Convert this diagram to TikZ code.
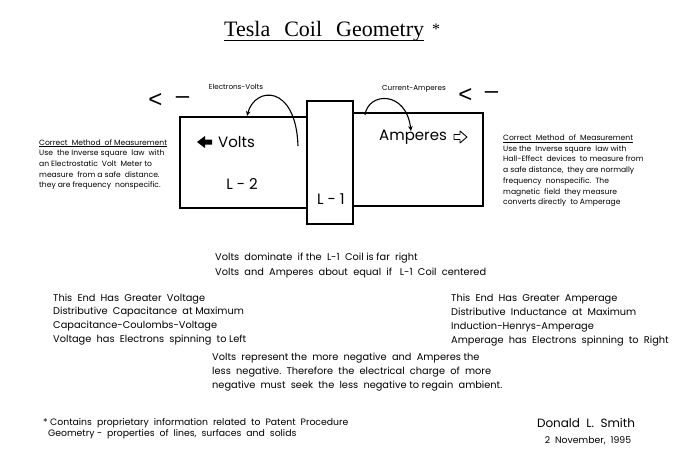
\documentclass[tikz,border=0pt]{standalone}
\usepackage{fontspec}
\setmainfont{Poppins}
\newfontfamily\titlefont{Liberation Serif}
\newfontfamily\markfont{Liberation Sans}
\usetikzlibrary{positioning, calc, arrows.meta}

\begin{document}
\begin{tikzpicture}[x=1pt, y=-1pt,
    coil/.style={draw, line width=1.1pt, fill=white, inner sep=0pt},
    big/.style={font=\fontsize{15}{18}\selectfont, inner sep=0pt},
    dirmark/.style={font=\markfont\fontsize{24}{26}\selectfont, inner sep=0pt},
    note/.style={anchor=north west, align=left, inner sep=0pt, font=\fontsize{7.6}{10.7}\selectfont},
    body/.style={anchor=north west, align=left, inner sep=0pt, font=\fontsize{9.8}{13.8}\selectfont},
    spin/.style={line width=1.1pt, -{Stealth[length=5pt,width=4.5pt]}}]
  \useasboundingbox (0,0) rectangle (690,459);

  % Title
  \node[anchor=base west, inner sep=0pt, font=\titlefont\fontsize{22}{24}\selectfont] (title) at (224,36)
    {Tesla\hspace{14pt}Coil\hspace{14pt}Geometry};
  \node[anchor=base west, inner sep=0pt, font=\titlefont\fontsize{16}{18}\selectfont] (star) at (432,34) {*};
  \draw[line width=0.8pt] ($(title.base west)+(0,4)$) -- ($(title.base east)+(0,4)$);

  % Coils
  \node[coil, minimum width=127pt, minimum height=91pt] (L2) at (243.5,162.5) {};
  \node[coil, minimum width=130pt, minimum height=93pt] (L3) at (418,159.5) {};
  \node[coil, minimum width=46pt, minimum height=123pt] (L1) at (330,162.5) {};
  \node[big, anchor=west] (volts) at (218,142) {Volts};
  \node[big] (l2) at (242,184) {L - 2};
  \node[big] (l1) at (331,199) {L - 1};
  \node[big, anchor=west] (amperes) at (379,137) {Amperes};

  % Arrows beside Volts and Amperes
  \fill (197,142) -- (205,136) -- (205,139.5) -- (212,139.5) -- (212,144.5) -- (205,144.5) -- (205,148) -- cycle;
  \draw[line width=0.9pt, line join=round] (467,137) -- (460,131) -- (460,134.5) -- (454,134.5)
    -- (454,139.5) -- (460,139.5) -- (460,143) -- cycle;

  % Spin arrows
  \coordinate (ev from) at (298,146);
  \coordinate (ev to) at (247,116);
  \coordinate (ca from) at (365,115);
  \coordinate (ca to) at (411,131);
  \draw[spin] (ev from) .. controls (296,84) and (255,86) .. (ev to);
  \draw[spin] (ca from) .. controls (368,92) and (406,90) .. (ca to);
  \node[font=\fontsize{7.2}{8}\selectfont] (ev) at (236,87) {Electrons-Volts};
  \node[font=\fontsize{7.2}{8}\selectfont] (ca) at (414,89) {Current-Amperes};

  % Direction marks
  \node[dirmark] (lt left) at (155.5,100) {<};
  \node[dirmark] (dash left) at (182.5,100) {–};
  \node[dirmark] (lt right) at (465.5,95) {<};
  \node[dirmark] (dash right) at (491.5,95) {–};

  % Measurement notes
  \node[note] (meas left) at (39,139) {\underline{Correct\ \ Method\ \ of Measurement}\\
    Use\ \ the Inverse square\ \ law\ \ with\\
    an Electrostatic\ \ Volt\ \ Meter to\\
    measure\ \ from a safe\ \ distance.\\
    they are frequency\ \ nonspecific.};
  \node[note] (meas right) at (503,134.5) {\underline{Correct\ \ Method\ \ of\ \ Measurement}\\
    Use the\ \ Inverse square\ \ law with\\
    Hall-Effect\ \ devices\ \ to measure from\\
    a safe distance,\ \ they are normally\\
    frequency\ \ nonspecific.\ \ The\\
    magnetic\ \ field\ \ they measure\\
    converts directly\ \ to Amperage};

  % Statements
  \node[body, font=\fontsize{9.8}{15}\selectfont] (dominate) at (215,252.5) {Volts\ \ dominate\ \ if the\ \ L-1\ \ Coil is far\ \ right\\
    Volts\ \ and\ \ Amperes\ \ about\ \ equal\ \ if\ \ \ L-1\ \ Coil\ \ centered};
  \node[body] (volt end) at (53,293.5) {This\ \ End\ \ Has\ \ Greater\ \ Voltage\\
    Distributive\ \ Capacitance\ \ at Maximum\\
    Capacitance-Coulombs-Voltage\\
    Voltage\ \ has\ \ Electrons\ \ spinning\ \ to Left};
  \node[body] (amp end) at (451,294) {This\ \ End\ \ Has\ \ Greater\ \ Amperage\\
    Distributive\ \ Inductance\ \ at\ \ Maximum\\
    Induction-Henrys-Amperage\\
    Amperage\ \ has\ \ Electrons\ \ spinning\ \ to\ \ Right};
  \node[body, font=\fontsize{9.8}{14}\selectfont] (negative) at (212,352.5) {Volts\ \ represent the\ \ more\ \ negative\ \ and\ \ Amperes the\\
    less\ \ negative.\ \ Therefore\ \ the\ \ electrical\ \ charge\ \ of\ \ more\\
    negative\ \ must\ \ seek\ \ the\ \ less\ \ negative to regain\ \ ambient.};

  % Footnote and signature
  \node[body, font=\fontsize{9.3}{10.7}\selectfont] (foot) at (43,418) {*\ Contains\ \ proprietary\ \ information\ \ related\ \ to\ \ Patent\ \ Procedure\\
    \ \ Geometry -\ \ properties\ \ of\ \ lines,\ \ surfaces\ \ and\ \ solids};
  \node[font=\fontsize{12}{14}\selectfont] (author) at (586,423) {Donald\ \ L.\ \ Smith};
  \node[font=\fontsize{9.3}{10}\selectfont] (date) at (588,441) {2\ \ November,\ \ 1995};
\end{tikzpicture}
\end{document}
